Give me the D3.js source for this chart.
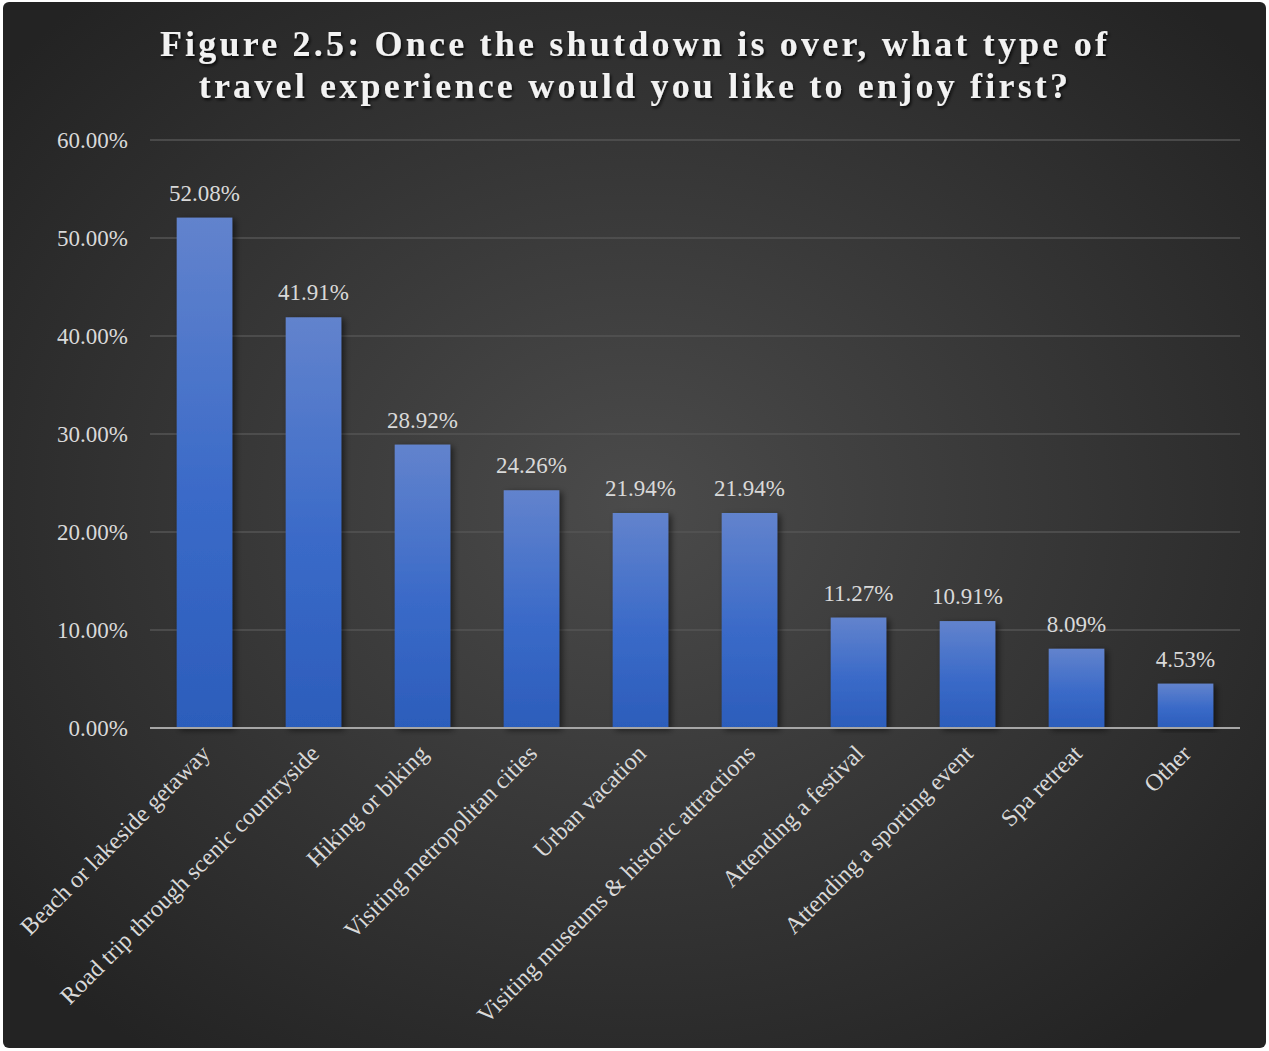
<!DOCTYPE html>
<html>
<head>
<meta charset="utf-8">
<script src="https://cdn.jsdelivr.net/npm/d3@7"></script>
<style>
  html, body { margin: 0; padding: 0; background: #ffffff; }
  svg { display: block; }
</style>
</head>
<body>
<script>
// Survey responses: preferred first travel experience after the shutdown
const categories = [
  "Beach or lakeside getaway",
  "Road trip through scenic countryside",
  "Hiking or biking",
  "Visiting metropolitan cities",
  "Urban vacation",
  "Visiting museums & historic attractions",
  "Attending a festival",
  "Attending a sporting event",
  "Spa retreat",
  "Other"
];
const values = [52.08, 41.91, 28.92, 24.26, 21.94, 21.94, 11.27, 10.91, 8.09, 4.53];
const yTicks = [0, 10, 20, 30, 40, 50, 60];
const titleLines = [
  "Figure 2.5: Once the shutdown is over, what type of",
  "travel experience would you like to enjoy first?"
];

const W = 1269, H = 1051;
const FONT = "Liberation Serif, Times New Roman, serif";
const svg = d3.select("body").append("svg").attr("width", W).attr("height", H);
const defs = svg.append("defs");

// background radial gradient
const bg = defs.append("radialGradient").attr("id", "bg")
  .attr("cx", "50%").attr("cy", "48%").attr("r", "65%");
bg.append("stop").attr("offset", "0%").attr("stop-color", "#4b4b4b");
bg.append("stop").attr("offset", "100%").attr("stop-color", "#232323");

// bar gradient
const bar = defs.append("linearGradient").attr("id", "bar")
  .attr("x1", 0).attr("y1", 0).attr("x2", 0).attr("y2", 1);
bar.append("stop").attr("offset", "0%").attr("stop-color", "#6283cd");
bar.append("stop").attr("offset", "55%").attr("stop-color", "#3a6ac8");
bar.append("stop").attr("offset", "100%").attr("stop-color", "#2c5dbb");

const shadow = defs.append("filter").attr("id", "shadow")
  .attr("x", "-30%").attr("y", "-10%").attr("width", "160%").attr("height", "120%");
shadow.append("feDropShadow").attr("dx", 3).attr("dy", 2).attr("stdDeviation", 3)
  .attr("flood-color", "#000").attr("flood-opacity", 0.55);

const tshadow = defs.append("filter").attr("id", "tshadow");
tshadow.append("feDropShadow").attr("dx", 1.5).attr("dy", 2).attr("stdDeviation", 1.5)
  .attr("flood-color", "#000").attr("flood-opacity", 0.8);

svg.append("rect").attr("x", 3).attr("y", 2).attr("width", W - 6).attr("height", H - 5)
  .attr("rx", 6).attr("fill", "url(#bg)");

const margin = { left: 150, right: 29, top: 140, bottom: 323 };
const x = d3.scaleBand().domain(categories)
  .range([margin.left, W - margin.right]).paddingInner(0.49).paddingOuter(0.245);
const y = d3.scaleLinear().domain([0, 60]).range([H - margin.bottom, margin.top]);

// gridlines
svg.append("g").selectAll("line").data(yTicks.filter(t => t > 0)).join("line")
  .attr("x1", margin.left).attr("x2", W - margin.right)
  .attr("y1", d => y(d)).attr("y2", d => y(d))
  .attr("stroke", "#555555").attr("stroke-width", 1.5);

// y axis labels
const yAxis = d3.axisLeft(y).tickValues(yTicks).tickSize(0).tickPadding(22)
  .tickFormat(d => d.toFixed(2) + "%");
const yg = svg.append("g").attr("transform", `translate(${margin.left},0)`).call(yAxis);
yg.select(".domain").remove();
yg.selectAll("text").attr("font-family", FONT)
  .attr("font-size", 23).attr("fill", "#d9d9d9");

// bars
svg.append("g").selectAll("rect").data(values).join("rect")
  .attr("x", (d, i) => x(categories[i]))
  .attr("width", x.bandwidth())
  .attr("y", d => y(d))
  .attr("height", d => y(0) - y(d))
  .attr("fill", "url(#bar)")
  .attr("filter", "url(#shadow)");

// baseline
svg.append("line").attr("x1", margin.left).attr("x2", W - margin.right)
  .attr("y1", y(0)).attr("y2", y(0)).attr("stroke", "#a6a6a6").attr("stroke-width", 2);

// value labels
svg.append("g").selectAll("text").data(values).join("text")
  .attr("x", (d, i) => x(categories[i]) + x.bandwidth() / 2)
  .attr("y", d => y(d) - 17)
  .attr("text-anchor", "middle")
  .attr("font-family", FONT)
  .attr("font-size", 23).attr("fill", "#d9d9d9")
  .text(d => d.toFixed(2) + "%");

// category labels, rotated
const xAxis = d3.axisBottom(x).tickSize(0).tickPadding(0);
const xg = svg.append("g").attr("transform", `translate(0,${y(0)})`).call(xAxis);
xg.select(".domain").remove();
xg.selectAll("text")
  .attr("font-family", FONT)
  .attr("font-size", 24).attr("fill", "#d9d9d9")
  .attr("text-anchor", "end")
  .attr("dy", null)
  .attr("transform", "translate(7,27) rotate(-45)");

// title
svg.append("g").attr("filter", "url(#tshadow)").selectAll("text").data(titleLines).join("text")
  .attr("x", 635).attr("y", (d, i) => 56 + i * 42)
  .attr("text-anchor", "middle")
  .attr("font-family", FONT)
  .attr("font-weight", "bold").attr("font-size", 36)
  .attr("letter-spacing", 3.2)
  .attr("fill", "#f2f2f2")
  .text(d => d);
</script>
</body>
</html>
